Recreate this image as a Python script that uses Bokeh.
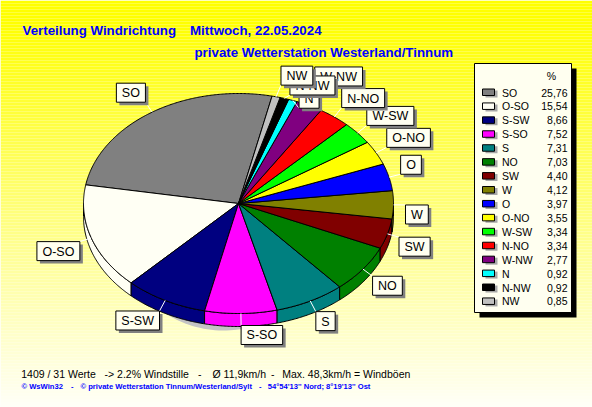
import numpy as np
from bokeh.plotting import figure
from bokeh.models import Range1d
from bokeh.core.properties import value
from bokeh.embed import file_html
from bokeh.resources import INLINE

# ---------------- data ----------------
directions = ["SO", "O-SO", "S-SW", "S-SO", "S", "NO", "SW", "W", "O", "O-NO",
              "W-SW", "N-NO", "W-NW", "N", "N-NW", "NW"]
percent = [25.76, 15.54, 8.66, 7.52, 7.31, 7.03, 4.40, 4.12, 3.97, 3.55,
           3.34, 3.34, 2.77, 0.92, 0.92, 0.85]
slice_colors = ["#808080", "#FFFFF4", "#000080", "#FF00FF", "#008080", "#008000",
                "#800000", "#808000", "#0000FF", "#FFFF00", "#00FF00", "#FF0000",
                "#800080", "#00FFFF", "#000000", "#C0C0C0"]
title_left = "Verteilung Windrichtung"
title_date = "Mittwoch, 22.05.2024"
subtitle = "private Wetterstation Westerland/Tinnum"
footer_parts = ["1409 / 31 Werte", "-> 2.2% Windstille", "-", "\u00d8 11,9km/h", "-",
                "Max. 48,3km/h = Windb\u00f6en"]
credit_parts = ["\u00a9 WsWin32", "-", "\u00a9 private Wetterstation Tinnum/Westerland/Sylt", "-",
                "54\u00b054'13'' Nord; 8\u00b019'13'' Ost"]
legend_header = "%"

# ---------------- layout / style ----------------
W_PX, H_PX = 592, 407
FONT = "Liberation Sans"
CX, CY, RX, RY, DEPTH = 238.0, 203.0, 155.0, 110.0, 13.0
START = 77.5
LBL_DIST = 12.0
LBL_FS = 12.5
LBL_PAD = 5.5
LBL_H = 19.0
char_w = {"S": 667, "O": 778, "-": 333, "W": 944, "N": 722}
label_nudge = {"W-NW": (0, -9), "N": (2, 19), "N-NW": (2, 8), "NW": (2, 0)}
footer_x = [20.7, 104, 197.5, 212, 270.5, 281.7]
credit_x = [21, 70.5, 80, 258.5, 267.3]

p = figure(width=W_PX, height=H_PX, output_backend="svg", toolbar_location=None,
           x_range=Range1d(0, W_PX), y_range=Range1d(H_PX, 0),
           x_axis_type=None, y_axis_type=None, min_border=0)
p.outline_line_color = None
p.grid.visible = False
p.background_fill_color = "#FFFFF8"
p.border_fill_color = "#FFFFF8"

# background gradient (vertical, yellow -> pale)
tops = np.arange(0, H_PX, 3, dtype=float)
bots = np.minimum(tops + 3, H_PX)
cols = []
for y0 in tops:
    t = min(max((y0 + 1.5 - 20) / (H_PX - 20), 0.0), 1.0)
    b = int(round(248 * t))
    cols.append("#FFFF%02X" % b)
p.quad(left=0, right=W_PX, top=tops, bottom=bots, fill_color=cols, line_color=None)

# ---------------- pie geometry ----------------
pct = np.array(percent)
a_start = START + 3.6 * np.concatenate([[0], np.cumsum(pct)[:-1]])
a_end = a_start + 3.6 * pct


def ell(angles_deg, dy=0.0, cx=CX, cy=CY, rx=RX, ry=RY):
    r = np.radians(angles_deg)
    return cx + rx * np.cos(r), cy - ry * np.sin(r) + dy


# shadow
sh_a = np.linspace(0, 360, 180)
sx, sy = ell(sh_a, cx=CX - 15, cy=CY + DEPTH + 4, rx=RX * 0.7, ry=RY)
p.patch(sx, sy, fill_color="#C4C4C4", line_color=None)

# side walls
side_xs, side_ys, side_cols = [], [], []
for a0, a1, c in zip(a_start, a_end, slice_colors):
    for lo, hi in ((180, 360), (540, 720)):
        s0, s1 = max(a0, lo), min(a1, hi)
        if s1 > s0:
            n = max(3, int((s1 - s0) * 2))
            arc = np.linspace(s0, s1, n)
            tx, ty = ell(arc)
            bx, by = ell(arc[::-1], dy=DEPTH)
            side_xs.append(np.concatenate([tx, bx]))
            side_ys.append(np.concatenate([ty, by]))
            side_cols.append(c)
p.patches(side_xs, side_ys, fill_color=side_cols, line_color="black", line_width=1)

# top faces
top_xs, top_ys = [], []
for a0, a1 in zip(a_start, a_end):
    n = max(3, int((a1 - a0) * 2))
    arc = np.linspace(a0, a1, n)
    ax, ay = ell(arc)
    top_xs.append(np.concatenate([[CX], ax]))
    top_ys.append(np.concatenate([[CY], ay]))
p.patches(top_xs, top_ys, fill_color=slice_colors, line_color="black", line_width=1)

# ---------------- slice labels ----------------
for name, a0, a1 in zip(directions, a_start, a_end):
    m = np.radians((a0 + a1) / 2)
    c, s = np.cos(m), np.sin(m)
    rx0, ry0 = CX + RX * c, CY - RY * s
    px, py = CX + (RX + LBL_DIST) * c, CY - (RY + LBL_DIST) * s
    w = sum(char_w[ch] for ch in name) * LBL_FS / 1000 + 2 * LBL_PAD
    left = px if c >= 0 else px - w
    top = py - LBL_H if s >= 0 else py
    dx, dy = label_nudge.get(name, (0, 0))
    left += dx
    top += dy
    ex = left if c >= 0 else left + w
    ey = top + LBL_H if s >= 0 else top
    p.line([rx0, ex], [ry0, ey], line_color="white", line_width=1)
    p.quad(left=left + 3, right=left + w + 3, top=top + 3, bottom=top + LBL_H + 3,
           fill_color="#808080", line_color=None)
    p.quad(left=left, right=left + w, top=top, bottom=top + LBL_H,
           fill_color="#FFFFF0", line_color="black", line_width=1)
    p.text(x=[left + w / 2], y=[top + LBL_H / 2 + 0.5], text=[name],
           text_font=value(FONT), text_font_size=value("%.1fpx" % LBL_FS),
           text_align="center", text_baseline="middle", text_color="black")

# ---------------- legend ----------------
LG_L, LG_R, LG_T, LG_B = 474, 571, 63, 312
p.quad(left=LG_L + 5, right=LG_R + 5, top=LG_T + 5, bottom=LG_B + 5,
       fill_color="black", line_color=None)
p.quad(left=LG_L, right=LG_R, top=LG_T, bottom=LG_B,
       fill_color="#FFFFF0", line_color="black", line_width=1)
p.text(x=[551], y=[75.5], text=[legend_header], text_font=value(FONT),
       text_font_size=value("10.5px"), text_align="center", text_baseline="middle",
       text_color="black")
row_y = 92 + 13.93 * np.arange(len(directions))
p.quad(left=485, right=497, top=row_y - 2, bottom=row_y + 5,
       fill_color="#A8A8A8", line_color=None)
p.quad(left=482, right=494, top=row_y - 3.5, bottom=row_y + 3,
       fill_color=slice_colors, line_color="black", line_width=1)
p.text(x=[501.5] * len(directions), y=row_y, text=directions, text_font=value(FONT),
       text_font_size=value("10.5px"), text_align="left", text_baseline="middle",
       text_color="black")
pct_txt = [("%.2f" % v).replace(".", ",") for v in percent]
p.text(x=[567] * len(directions), y=row_y, text=pct_txt, text_font=value(FONT),
       text_font_size=value("10.5px"), text_align="right", text_baseline="middle",
       text_color="black")

# ---------------- titles and footer ----------------
p.text(x=[22], y=[30], text=[title_left], text_font=value(FONT), text_font_size=value("13.3px"),
       text_font_style="bold", text_color="#0000FF", text_baseline="alphabetic")
p.text(x=[189.5], y=[30], text=[title_date], text_font=value(FONT), text_font_size=value("13.3px"),
       text_font_style="bold", text_color="#0000FF", text_baseline="alphabetic")
p.text(x=[194], y=[51.7], text=[subtitle], text_font=value(FONT), text_font_size=value("13.3px"),
       text_font_style="bold", text_color="#0000FF", text_baseline="alphabetic")
p.text(x=footer_x, y=[373.3] * len(footer_parts), text=footer_parts, text_font=value(FONT),
       text_font_size=value("10.5px"), text_color="black", text_baseline="alphabetic")
p.text(x=credit_x, y=[385.5] * len(credit_parts), text=credit_parts, text_font=value(FONT),
       text_font_size=value("7.6px"), text_font_style="bold", text_color="#0000FF",
       text_baseline="middle")

open("out.html", "w").write(file_html(p, INLINE))
